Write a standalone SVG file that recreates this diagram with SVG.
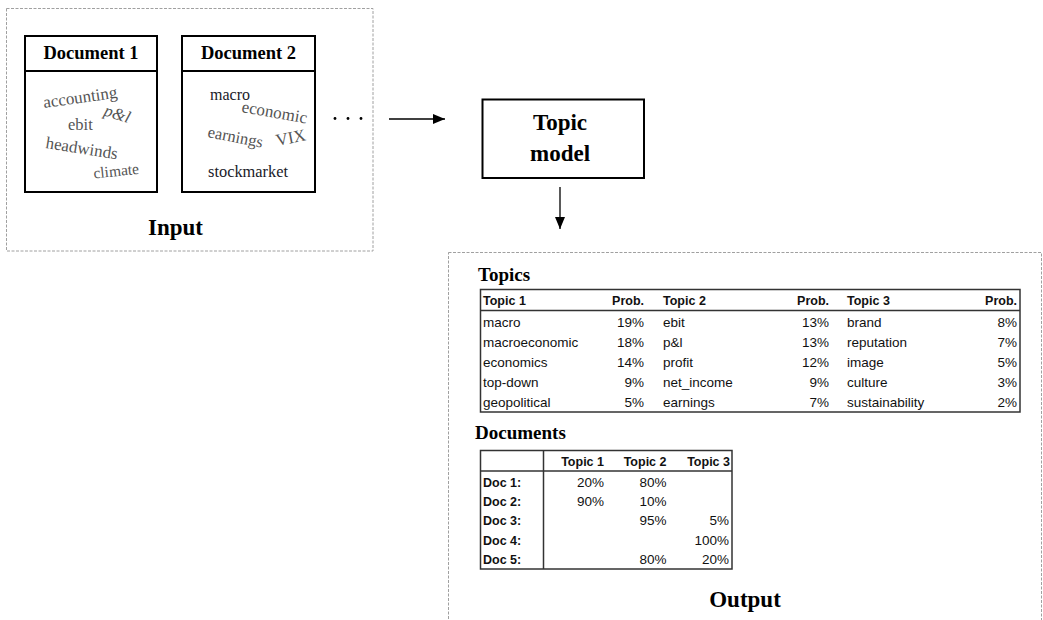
<svg xmlns="http://www.w3.org/2000/svg" width="1043" height="620" viewBox="0 0 1043 620">
<style>
.dash{fill:none;stroke:#a0a0a0;stroke-width:1;stroke-dasharray:3 1.5}
.box{fill:#fff;stroke:#000;stroke-width:2}
.ttl{font-family:"Liberation Serif","Times New Roman",serif;font-weight:bold;fill:#000}
.w{font-family:"Liberation Serif","Times New Roman",serif;fill:#555}
.wd{font-family:"Liberation Serif","Times New Roman",serif;fill:#1a1a28}
.tb{fill:#fff;stroke:#333;stroke-width:1.5}
.tl{stroke:#333;stroke-width:1.5}
.c{font-family:"Liberation Sans",Arial,sans-serif;font-size:13.5px;fill:#111}
.cb{font-family:"Liberation Sans",Arial,sans-serif;font-size:12.5px;font-weight:bold;fill:#111}
.r{text-anchor:end}
.edge{stroke:#000;stroke-width:1.3;fill:none}
</style>
<defs>
<marker id="ah" markerWidth="12" markerHeight="10" refX="12" refY="5" orient="auto" markerUnits="userSpaceOnUse">
<path d="M0,0 L12,5 L0,10 Z" fill="#000"/>
</marker>
</defs>
<rect width="1043" height="620" fill="#fff"/>

<g id="input">
<rect class="dash" x="6.5" y="8.5" width="366.5" height="242.5"/>
<text class="ttl" x="175.5" y="235" font-size="23" text-anchor="middle">Input</text>
</g>

<g id="doc1">
<rect class="box" x="25" y="36" width="132" height="156"/>
<line x1="25" y1="71" x2="157" y2="71" stroke="#000" stroke-width="2"/>
<text class="ttl" x="91" y="59" font-size="18.5" text-anchor="middle">Document 1</text>
<text class="w" font-size="17" transform="translate(44,108) rotate(-8)">accounting</text>
<text class="w" font-size="16.5" x="68" y="129.5">ebit</text>
<text class="w" font-size="17" font-style="italic" transform="translate(103,115) rotate(18)">p&amp;l</text>
<text class="w" font-size="17" transform="translate(45,148) rotate(9)">headwinds</text>
<text class="w" font-size="15.5" transform="translate(94,178.5) rotate(-6)">climate</text>
</g>

<g id="doc2">
<rect class="box" x="182" y="36" width="133" height="156"/>
<line x1="182" y1="71" x2="315" y2="71" stroke="#000" stroke-width="2"/>
<text class="ttl" x="248.5" y="59" font-size="18.5" text-anchor="middle">Document 2</text>
<text class="wd" font-size="16" x="210" y="99.5">macro</text>
<text class="w" font-size="17" transform="translate(241,112) rotate(10)">economic</text>
<text class="w" font-size="16.5" transform="translate(207,137) rotate(11)">earnings</text>
<text class="w" font-size="17" transform="translate(277,146) rotate(-11)">VIX</text>
<text class="wd" font-size="16.4" x="208" y="177">stockmarket</text>
</g>

<g id="ellipsis">
<circle cx="335" cy="118.5" r="1.4" fill="#000"/>
<circle cx="348" cy="118.5" r="1.4" fill="#000"/>
<circle cx="361" cy="118.5" r="1.4" fill="#000"/>
</g>

<g id="topic-model">
<rect class="box" x="482.5" y="99.5" width="161.5" height="78.5"/>
<text class="ttl" x="560" y="129.5" font-size="23" text-anchor="middle">Topic</text>
<text class="ttl" x="560" y="160.5" font-size="23" text-anchor="middle">model</text>
</g>

<g id="connectors">
<line class="edge" x1="389" y1="119" x2="445" y2="119" marker-end="url(#ah)"/>
<line class="edge" x1="560" y1="187" x2="560" y2="229" marker-end="url(#ah)"/>
</g>

<g id="output">
<rect class="dash" x="448.5" y="252.5" width="593" height="380"/>
<text class="ttl" x="745" y="607" font-size="23" text-anchor="middle">Output</text>

<text class="ttl" x="478" y="281" font-size="19">Topics</text>
<rect class="tb" x="480.5" y="289.5" width="539.5" height="122.5"/>
<line class="tl" x1="480.5" y1="310.5" x2="1020" y2="310.5"/>
<text class="cb" x="483" y="305">Topic 1</text>
<text class="cb r" x="644" y="305">Prob.</text>
<text class="cb" x="663" y="305">Topic 2</text>
<text class="cb r" x="829" y="305">Prob.</text>
<text class="cb" x="847" y="305">Topic 3</text>
<text class="cb r" x="1017" y="305">Prob.</text>

<text class="c" x="483" y="326.5">macro</text>
<text class="c" x="483" y="346.5">macroeconomic</text>
<text class="c" x="483" y="366.5">economics</text>
<text class="c" x="483" y="386.5">top-down</text>
<text class="c" x="483" y="406.5">geopolitical</text>
<text class="c r" x="644" y="326.5">19%</text>
<text class="c r" x="644" y="346.5">18%</text>
<text class="c r" x="644" y="366.5">14%</text>
<text class="c r" x="644" y="386.5">9%</text>
<text class="c r" x="644" y="406.5">5%</text>

<text class="c" x="663" y="326.5">ebit</text>
<text class="c" x="663" y="346.5">p&amp;l</text>
<text class="c" x="663" y="366.5">profit</text>
<text class="c" x="663" y="386.5">net_income</text>
<text class="c" x="663" y="406.5">earnings</text>
<text class="c r" x="829" y="326.5">13%</text>
<text class="c r" x="829" y="346.5">13%</text>
<text class="c r" x="829" y="366.5">12%</text>
<text class="c r" x="829" y="386.5">9%</text>
<text class="c r" x="829" y="406.5">7%</text>

<text class="c" x="847" y="326.5">brand</text>
<text class="c" x="847" y="346.5">reputation</text>
<text class="c" x="847" y="366.5">image</text>
<text class="c" x="847" y="386.5">culture</text>
<text class="c" x="847" y="406.5">sustainability</text>
<text class="c r" x="1017" y="326.5">8%</text>
<text class="c r" x="1017" y="346.5">7%</text>
<text class="c r" x="1017" y="366.5">5%</text>
<text class="c r" x="1017" y="386.5">3%</text>
<text class="c r" x="1017" y="406.5">2%</text>

<text class="ttl" x="475" y="438.5" font-size="19">Documents</text>
<rect class="tb" x="480.5" y="450.5" width="251.5" height="118.5"/>
<line class="tl" x1="480.5" y1="471" x2="732" y2="471"/>
<line class="tl" x1="543.5" y1="450.5" x2="543.5" y2="569"/>
<text class="cb r" x="604" y="466">Topic 1</text>
<text class="cb r" x="666.5" y="466">Topic 2</text>
<text class="cb r" x="730" y="466">Topic 3</text>
<text class="cb" x="483" y="487">Doc 1:</text>
<text class="cb" x="483" y="506">Doc 2:</text>
<text class="cb" x="483" y="525">Doc 3:</text>
<text class="cb" x="483" y="544.5">Doc 4:</text>
<text class="cb" x="483" y="563.5">Doc 5:</text>
<text class="c r" x="604" y="487">20%</text>
<text class="c r" x="666.5" y="487">80%</text>
<text class="c r" x="604" y="506">90%</text>
<text class="c r" x="666.5" y="506">10%</text>
<text class="c r" x="666.5" y="525">95%</text>
<text class="c r" x="729" y="525">5%</text>
<text class="c r" x="729" y="544.5">100%</text>
<text class="c r" x="666.5" y="563.5">80%</text>
<text class="c r" x="729" y="563.5">20%</text>
</g>
</svg>
